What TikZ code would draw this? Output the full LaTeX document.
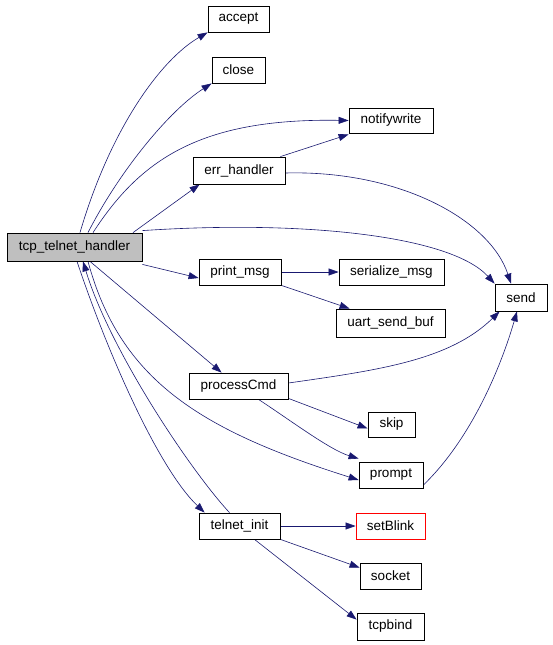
\documentclass[tikz,border=0pt]{standalone}
\usepackage{fontspec}
\setmainfont{Liberation Sans}
\usetikzlibrary{arrows.meta}
\pgfdeclarelayer{bg}
\pgfsetlayers{bg,main}
\definecolor{edge}{RGB}{25,25,112}
\tikzset{
  box/.style={draw=black, fill=white, line width=0.8pt, inner sep=0pt, minimum height=26pt, font=\fontsize{13.5}{15}\selectfont},
  rootbox/.style={box, fill=black!25},
  redbox/.style={box, draw=red},
  conn/.style={draw=edge, line width=0.6pt, -{Triangle[length=10pt,width=7pt]}},
}
\begin{document}
\begin{tikzpicture}[x=1pt,y=-1pt]
\path[use as bounding box] (0,0) rectangle (552,645);
% nodes
\node[rootbox, minimum width=135pt, minimum height=28pt] (tcp) at (74.5,247) {tcp\_telnet\_handler};
\node[box, minimum width=61pt] (accept) at (238.5,19) {accept};
\node[box, minimum width=53pt] (close) at (238.5,70) {close};
\node[box, minimum width=84pt, minimum height=25pt] (notify) at (391,120.5) {notifywrite};
\node[box, minimum width=92pt, minimum height=27pt] (err) at (239,170.5) {err\_handler};
\node[box, minimum width=82pt] (print) at (240,272) {print\_msg};
\node[box, minimum width=105pt] (ser) at (391.5,272) {serialize\_msg};
\node[box, minimum width=109pt, minimum height=28pt] (uart) at (390.5,323) {uart\_send\_buf};
\node[box, minimum width=52pt, minimum height=27pt] (send) at (521,297.5) {send};
\node[box, minimum width=99pt] (proc) at (238.5,386) {processCmd};
\node[box, minimum width=47pt, minimum height=25pt] (skip) at (391.5,424.5) {skip};
\node[box, minimum width=64pt] (prompt) at (391,475) {prompt};
\node[box, minimum width=81pt] (tinit) at (239.5,526) {telnet\_init};
\node[redbox, minimum width=69pt] (blink) at (390.5,526) {setBlink};
\node[box, minimum width=61pt] (socket) at (390.5,576) {socket};
\node[box, minimum width=67pt, minimum height=27pt] (tcpbind) at (390.5,626.5) {tcpbind};
% edges
\begin{pgfonlayer}{bg}
\draw[conn] ([xshift=5.5pt]tcp.north) .. controls (110,130) and (160,60) .. (accept.south west);
\draw[conn] ([xshift=13.5pt]tcp.north) .. controls (120,170) and (170,110) .. (close.south west);
\draw[conn] ([xshift=18.5pt]tcp.north) .. controls (140,160) and (200,118) .. (notify.west);
\draw[conn] ([xshift=58.5pt]tcp.north) -- ([xshift=7pt]err.south west);
\draw[conn] ([xshift=-5pt]err.north east) -- ([yshift=-1pt]notify.south west);
\draw[conn] ([yshift=-2.5pt]err.east) .. controls (400,170) and (490,220) .. ([xshift=-10pt]send.north);
\draw[conn] ([yshift=2pt]tcp.north east) .. controls (300,220) and (450,235) .. (send.north west);
\draw[conn] ([yshift=-3pt]tcp.south east) -- ([yshift=-6pt]print.west);
\draw[conn] (print.east) -- (ser.west);
\draw[conn] (print.south east) -- ([xshift=14pt]uart.north west);
\draw[conn] ([xshift=15.5pt]tcp.south) -- ([xshift=33pt]proc.north west);
\draw[conn] ([yshift=3pt]proc.east) .. controls (380,370) and (450,360) .. ([xshift=5pt]send.south west);
\draw[conn] ([yshift=1pt]proc.south east) -- ([yshift=-4pt]skip.west);
\draw[conn] ([xshift=20pt]proc.south) .. controls (290,420) and (330,450) .. ([yshift=3pt]prompt.north west);
\draw[conn] ([xshift=13.5pt]tcp.south) .. controls (120,380) and (200,430) .. ([yshift=-5pt]prompt.west);
\draw[conn] ([xshift=2.5pt]tcp.south) .. controls (110,360) and (160,470) .. ([xshift=6pt]tinit.north west);
\draw[conn] ([xshift=-10pt]tinit.north) .. controls (190,470) and (110,350) .. ([xshift=8.5pt]tcp.south);
\draw[conn] ([yshift=-10pt]prompt.east) .. controls (470,440) and (500,370) .. ([xshift=-4pt]send.south);
\draw[conn] (tinit.east) -- (blink.west);
\draw[conn] (tinit.south east) -- ([yshift=-5pt]socket.north west);
\draw[conn] ([xshift=15pt]tinit.south) -- ([yshift=-7pt]tcpbind.north west);
\end{pgfonlayer}
\end{tikzpicture}
\end{document}
